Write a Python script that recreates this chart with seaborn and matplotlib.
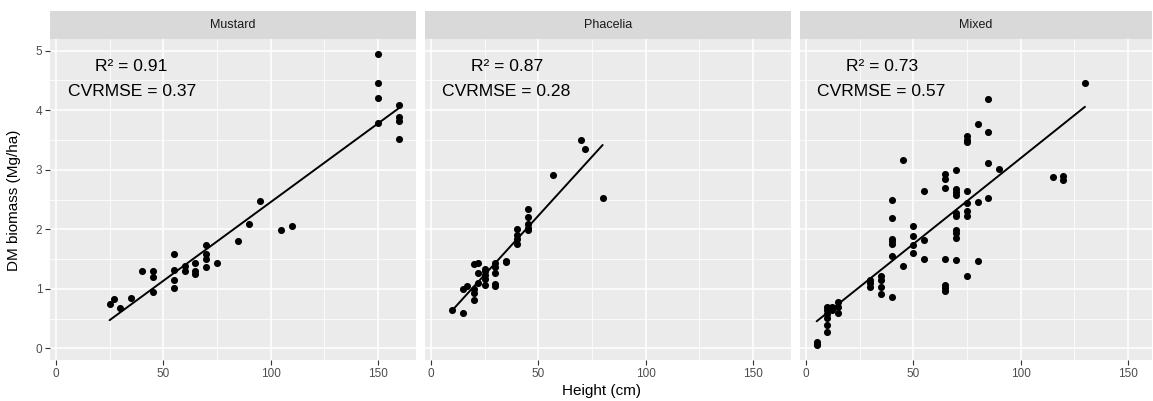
import numpy as np
import pandas as pd
import matplotlib
matplotlib.use("Agg")
import matplotlib.pyplot as plt
from matplotlib.ticker import MultipleLocator, FixedLocator
import seaborn as sns

# ---------------- data ----------------
panels = ["Mustard", "Phacelia", "Mixed"]

mustard_h = [25, 27, 30, 35, 40, 45, 45, 45, 55, 55, 55, 55, 60, 60, 65, 65, 65,
             70, 70, 70, 70, 75, 85, 90, 95, 105, 110, 150, 150, 150, 150,
             160, 160, 160, 160]
mustard_dm = [0.75, 0.83, 0.67, 0.84, 1.30, 1.30, 1.20, 0.95, 1.58, 1.31, 1.15, 1.02,
              1.38, 1.30, 1.43, 1.30, 1.25, 1.74, 1.58, 1.50, 1.36, 1.43, 1.81, 2.09,
              2.48, 1.99, 2.06, 4.94, 4.45, 4.20, 3.78, 4.08, 3.88, 3.81, 3.51]

phacelia_h = [10, 15, 15, 17, 20, 20, 20, 20, 22, 22, 22, 25, 25, 25, 25, 25,
              30, 30, 30, 30, 30, 35, 35, 40, 40, 40, 40, 45, 45, 45, 45, 45,
              57, 70, 72, 80]
phacelia_dm = [0.65, 0.59, 0.99, 1.05, 0.99, 0.81, 0.93, 1.41, 1.43, 1.27, 1.10,
               1.34, 1.24, 1.16, 1.07, 1.30, 1.43, 1.36, 1.26, 1.08, 1.05, 1.47,
               1.45, 2.01, 1.91, 1.83, 1.75, 2.34, 2.20, 2.09, 2.02, 1.98, 2.91,
               3.50, 3.34, 2.53]

mixed_h = [5, 5, 5,
           10, 10, 10, 10, 10, 10, 12, 12, 15, 15, 15,
           30, 30, 30, 35, 35, 35, 35,
           40, 40, 40, 40, 40, 40, 40, 45, 45,
           50, 50, 50, 50, 55, 55, 55,
           65, 65, 65, 65, 65, 65, 65,
           70, 70, 70, 70, 70, 70, 70, 70, 70, 70,
           75, 75, 75, 75, 75, 75, 75, 75,
           80, 80, 80, 85, 85, 85, 85, 90, 115, 120, 120, 130]
mixed_dm = [0.10, 0.08, 0.05,
            0.27, 0.39, 0.58, 0.64, 0.69, 0.51, 0.70, 0.65, 0.78, 0.69, 0.59,
            1.15, 1.10, 1.03, 1.21, 1.14, 1.03, 0.92,
            0.86, 1.55, 1.76, 1.81, 1.84, 2.19, 2.50, 3.16, 1.39,
            2.06, 1.88, 1.74, 1.60, 2.64, 1.82, 1.50,
            2.92, 2.85, 2.69, 1.50, 1.06, 1.02, 0.97,
            2.99, 2.68, 2.62, 2.58, 2.27, 2.22, 1.99, 1.94, 1.86, 1.48,
            3.56, 3.50, 3.47, 2.65, 2.44, 2.31, 2.23, 1.22,
            3.77, 2.45, 1.46, 4.18, 3.64, 3.11, 2.52, 3.01, 2.87, 2.90, 2.83, 4.45]

r2_labels = ["R\u00b2 = 0.91", "R\u00b2 = 0.87", "R\u00b2 = 0.73"]
cv_labels = ["CVRMSE = 0.37", "CVRMSE = 0.28", "CVRMSE = 0.57"]

x_ticks = [0, 50, 100, 150]
y_ticks = [0, 1, 2, 3, 4, 5]

df = pd.concat([
    pd.DataFrame({"crop": "Mustard", "height": mustard_h, "dm": mustard_dm}),
    pd.DataFrame({"crop": "Phacelia", "height": phacelia_h, "dm": phacelia_dm}),
    pd.DataFrame({"crop": "Mixed", "height": mixed_h, "dm": mixed_dm}),
])

# ---------------- style ----------------
sns.set_theme(style="darkgrid", rc={
    "axes.facecolor": "#EBEBEB",
    "grid.color": "white",
    "axes.edgecolor": "none",
})
plt.rcParams["font.family"] = ["Liberation Sans", "DejaVu Sans"]

W, H = 1153, 401
fig = plt.figure(figsize=(W / 100, H / 100), dpi=100)
fig.patch.set_facecolor("white")

# panel geometry (pixels)
lefts = [50, 425, 800]
rights = [416, 791, 1152]
top, bottom = 39, 360
strip_top = 11

xmin = -2.75
px_per_unit = 366 / 170.5
ylim = (-0.195, 5.195)

for i, crop in enumerate(panels):
    l, r = lefts[i], rights[i]
    ax = fig.add_axes([l / W, (H - bottom) / H, (r - l) / W, (bottom - top) / H])
    sub = df[df["crop"] == crop]
    sns.regplot(data=sub, x="height", y="dm", ax=ax, ci=None, truncate=True,
                scatter_kws=dict(s=26, color="black", linewidths=0, alpha=1),
                line_kws=dict(color="black", lw=1.4))
    ax.set_xlim(xmin, xmin + (r - l) / px_per_unit)
    ax.set_ylim(*ylim)
    ax.xaxis.set_major_locator(FixedLocator(x_ticks))
    ax.yaxis.set_major_locator(FixedLocator(y_ticks))
    ax.xaxis.set_minor_locator(FixedLocator([25, 75, 125]))
    ax.yaxis.set_minor_locator(MultipleLocator(0.5))
    ax.grid(which="major", color="white", lw=1.1)
    ax.grid(which="minor", color="white", lw=0.55)
    ax.tick_params(which="minor", length=0)
    ax.tick_params(which="major", length=3.5, width=0.8, color="#333333",
                   labelsize=8.5, labelcolor="#4D4D4D", pad=2)
    ax.tick_params(axis="x", bottom=True)
    ax.set_xlabel("")
    ax.set_ylabel("")
    if i == 0:
        ax.tick_params(axis="y", left=True)
    else:
        ax.tick_params(axis="y", left=False, labelleft=False)
    for s in ax.spines.values():
        s.set_visible(False)
    ax.text(35.3, 4.74, r2_labels[i], ha="center", va="center", fontsize=12.6,
            color="black")
    ax.text(35.3, 4.32, cv_labels[i], ha="center", va="center", fontsize=12.6,
            color="black")

    # strip
    sax = fig.add_axes([l / W, (H - top) / H, (r - l) / W, (top - strip_top) / H])
    sax.set_facecolor("#D9D9D9")
    sax.set_xticks([])
    sax.set_yticks([])
    sax.grid(False)
    for s in sax.spines.values():
        s.set_visible(False)
    sax.text(0.5, 0.5, crop, ha="center", va="center", fontsize=9,
             color="#1A1A1A", transform=sax.transAxes)

fig.text(601 / W, 1 - 391 / H, "Height (cm)", ha="center", va="center",
         fontsize=11, color="black")
fig.text(14 / W, 1 - 200 / H, "DM biomass (Mg/ha)", ha="center", va="center",
         rotation=90, fontsize=11, color="black")

fig.savefig("out.png", dpi=100, facecolor="white")
